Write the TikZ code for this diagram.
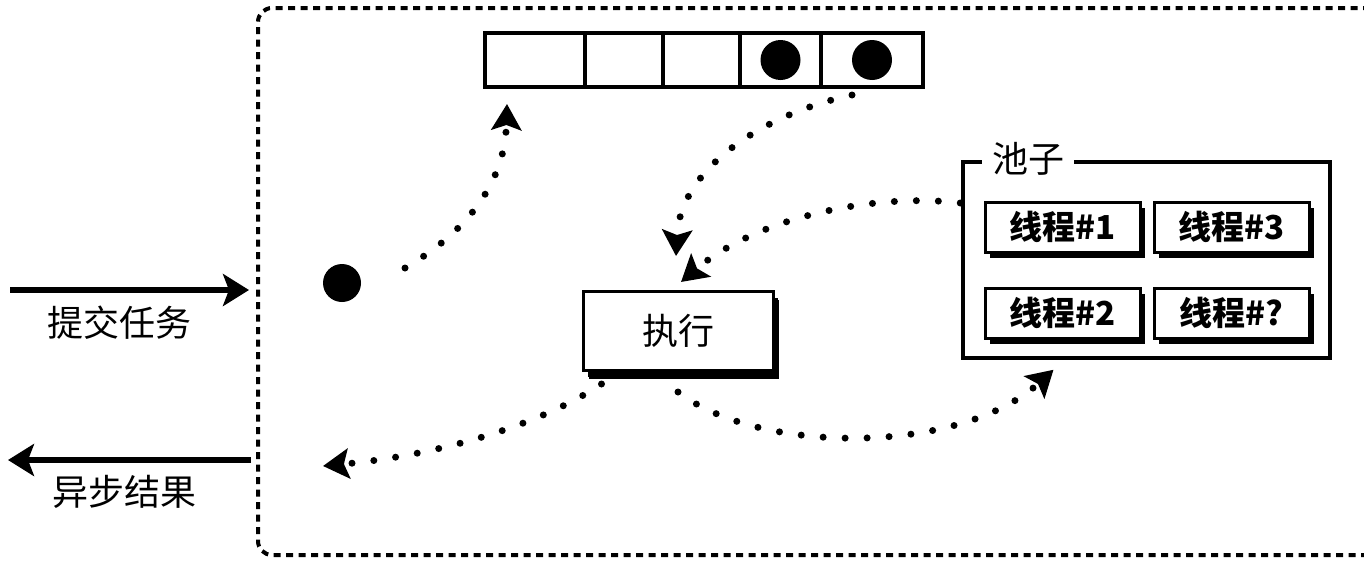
\documentclass[tikz,border=0pt]{standalone}
\usepackage{fontspec}
\setmainfont{Noto Sans CJK SC}
\usetikzlibrary{arrows.meta,shadows}
\begin{document}
\begin{tikzpicture}[x=1pt,y=-1pt,
  frame/.style={line width=4pt, dash pattern=on 7pt off 5.5pt, rounded corners=14pt},
  cell/.style={draw, line width=4pt, minimum height=54pt, inner sep=0pt, anchor=west},
  ball/.style={circle, fill=black, minimum size=40pt, inner sep=0pt},
  flow/.style={line width=7pt, dash pattern=on 0pt off 22pt, line cap=round,
    -{Stealth[length=26pt,width=30pt,inset=5pt]}},
  bigarrow/.style={line width=6.5pt, -{Stealth[length=26pt,width=32pt,inset=6pt]}},
  label/.style={font=\fontsize{36}{36}\selectfont, inner sep=0pt},
  shadowbox/.style={draw, line width=3pt, fill=white, inner sep=0pt,
    drop shadow={shadow xshift=5pt, shadow yshift=-6pt, opacity=1, fill=black}},
  thread/.style={shadowbox, minimum width=155pt, minimum height=50pt,
    font=\fontsize{33}{33}\selectfont\bfseries}
]
\useasboundingbox (0,0) rectangle (1364,570);

% outer dashed frame
\draw[frame] (1420,8) -- (258,8) -- (258,555) -- (1420,555);

% queue
\node[cell, minimum width=100pt] (q1) at (483,60) {};
\node[cell, minimum width=78pt] (q2) at (583,60) {};
\node[cell, minimum width=77pt] (q3) at (661,60) {};
\node[cell, minimum width=81pt] (q4) at (738,60) {};
\node[cell, minimum width=102pt] (q5) at (819,60) {};
\node[ball] (b4) at (q4.center) {};
\node[ball] (b5) at (q5.center) {};

% incoming task
\node[ball, minimum size=38pt] (task) at (342,283) {};

% left arrows and labels
\coordinate (inL) at (10,290);
\coordinate (inR) at (249,290);
\draw[bigarrow] (inL) -- (inR);
\node[label] (submit) at (119,323) {提交任务};
\coordinate (outR) at (251,460);
\coordinate (outL) at (8,460);
\draw[bigarrow] (outR) -- (outL);
\node[label] (result) at (124,492) {异步结果};

% execute box
\node[shadowbox, minimum width=190pt, minimum height=79pt,
  font=\fontsize{36}{36}\selectfont, drop shadow={shadow xshift=6pt, shadow yshift=-8pt, opacity=1, fill=black}]
  (exec) at (678,331) {执行};

% pool
\node[draw, line width=3.5pt, minimum width=367pt, minimum height=196pt, inner sep=0pt] (pool) at (1146.5,260) {};
\node[label, fill=white, minimum width=92pt, minimum height=30pt] (poolname) at (1028,159) {池子};
\node[thread] (t1) at (1062.5,227) {线程\#1};
\node[thread] (t3) at (1231.5,227) {线程\#3};
\node[thread] (t2) at (1062.5,313) {线程\#2};
\node[thread] (tq) at (1231.5,313) {线程\#?};

% dotted flows
\draw[flow] ([shift={(63,-15)}]task.center) .. controls (470,230) and (505,180) .. ([shift={(-28,15)}]q1.south);
\draw[flow] ([shift={(-20,6)}]q5.south) .. controls (760,115) and (680,170) .. ([shift={(-2,-34)}]exec.north);
\draw[flow] ([shift={(-1,-57)}]pool.west) .. controls (880,193) and (760,215) .. ([shift={(3,-8)}]exec.north);
\coordinate (ret) at (323,466);
\draw[flow] ([shift={(20,12)}]exec.south west) .. controls (540,425) and (440,455) .. (ret);
\draw[flow] ([shift={(0,20)}]exec.south) .. controls (760,455) and (960,455) .. ([shift={(-93,10)}]pool.south);
\end{tikzpicture}
\end{document}
